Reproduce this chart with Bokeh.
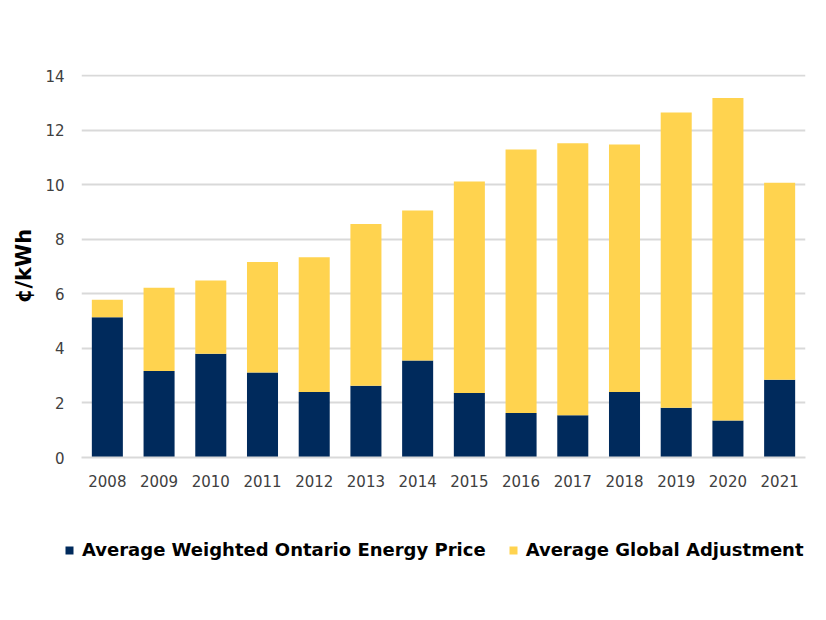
from bokeh.plotting import figure
from bokeh.layouts import column, row
from bokeh.models import FactorRange, Range1d, Legend, LegendItem, FixedTicker
from bokeh.embed import file_html
from bokeh.resources import INLINE

years = ["2008", "2009", "2010", "2011", "2012", "2013", "2014",
         "2015", "2016", "2017", "2018", "2019", "2020", "2021"]
energy_price = [5.14, 3.17, 3.80, 3.12, 2.40, 2.63, 3.56,
                2.36, 1.63, 1.55, 2.40, 1.82, 1.36, 2.85]
totals = [5.78, 6.22, 6.49, 7.17, 7.34, 8.56, 9.05,
          10.12, 11.29, 11.52, 11.47, 12.65, 13.18, 10.07]
global_adj = [round(t - e, 2) for t, e in zip(totals, energy_price)]
y_ticks = [0, 2, 4, 6, 8, 10, 12, 14]
series_labels = ["Average Weighted Ontario Energy Price", "Average Global Adjustment"]

NAVY = "#002A5C"
YELLOW = "#FFD34F"
GRID = "#D9D9D9"
FONT = "DejaVu Sans"

data = dict(years=years, energy=energy_price, ga=global_adj)

p = figure(x_range=FactorRange(*years, range_padding=0), y_range=Range1d(0, 14.04),
           width=820, height=500, output_backend="svg", toolbar_location=None,
           min_border_left=81, min_border_right=15, min_border_top=74,
           min_border_bottom=43)
p.outline_line_color = None

r = p.vbar_stack(["energy", "ga"], x="years", width=0.6, source=data,
                 color=[NAVY, YELLOW], line_color=None)

p.xgrid.grid_line_color = None
p.ygrid.grid_line_color = GRID
p.ygrid.grid_line_width = 2
p.yaxis.ticker = FixedTicker(ticks=y_ticks)

for ax in (p.xaxis, p.yaxis):
    ax.major_tick_line_color = None
    ax.minor_tick_line_color = None
    ax.major_label_text_font = FONT
    ax.major_label_text_font_size = "15px"
    ax.major_label_text_color = "#404040"
p.yaxis.axis_line_color = None
p.xaxis.axis_line_color = GRID
p.xaxis.axis_line_width = 2
p.yaxis.major_label_standoff = 11
p.xaxis.major_label_standoff = 11

p.yaxis.axis_label = "¢/kWh"
p.yaxis.axis_label_text_font = FONT
p.yaxis.axis_label_text_font_style = "bold"
p.yaxis.axis_label_text_font_size = "21px"
p.yaxis.axis_label_text_color = "#000000"
p.yaxis.axis_label_standoff = 6

# legend strip: same series with zero-width bars, so only the legend is visible
lf = figure(width=820, height=120, output_backend="svg", toolbar_location=None,
            min_border=0, x_range=FactorRange(*years), y_range=Range1d(-2, -1),
            x_axis_location=None, y_axis_location=None)
lf.grid.visible = False
lf.outline_line_color = None
lr = lf.vbar_stack(["energy", "ga"], x="years", width=0, source=data,
                   color=[NAVY, YELLOW], line_color=None)

legend = Legend(items=[LegendItem(label=series_labels[0], renderers=[lr[0]]),
                       LegendItem(label=series_labels[1], renderers=[lr[1]])],
                orientation="horizontal", location=(64, 60))
legend.label_text_font = FONT
legend.label_text_font_style = "bold"
legend.label_text_font_size = "18px"
legend.label_text_color = "#000000"
legend.glyph_width = 10
legend.glyph_height = 10
legend.label_standoff = 8
legend.spacing = 22
legend.border_line_color = None
legend.background_fill_alpha = 0
legend.margin = 0
legend.padding = 0
lf.add_layout(legend, "center")

layout = column(p, row(lf), spacing=0)
open("out.html", "w").write(file_html(layout, INLINE))
